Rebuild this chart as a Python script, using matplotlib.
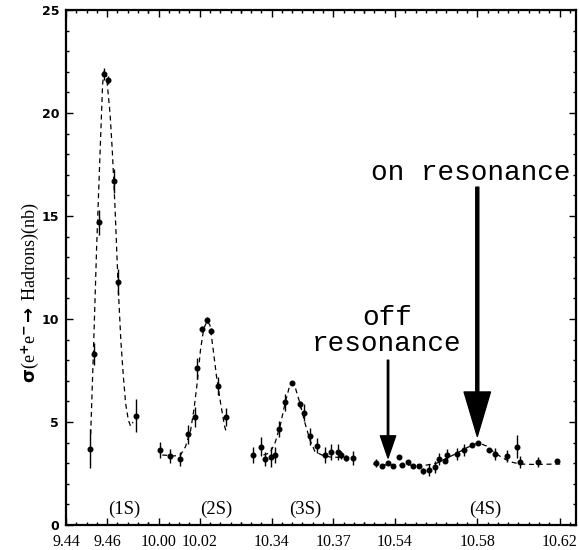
import numpy as np
import matplotlib
matplotlib.use("Agg")
import matplotlib.pyplot as plt

plt.rcParams["mathtext.fontset"] = "custom"
plt.rcParams["mathtext.rm"] = "Liberation Serif"
plt.rcParams["mathtext.it"] = "Liberation Serif:italic"
plt.rcParams["mathtext.bf"] = "DejaVu Sans:bold"

# Energy windows (GeV) shown side by side on a broken axis
seg_lo = [9.44, 9.995, 10.325, 10.525]
seg_hi = [9.48, 10.04, 10.385, 10.628]

major_ticks = [9.44, 9.46, 10.00, 10.02, 10.34, 10.37, 10.54, 10.58, 10.62]
major_labels = ["9.44", "9.46", "10.00", "10.02", "10.34", "10.37", "10.54", "10.58", "10.62"]

# Upsilon(1S) scan
e_1s = [9.4517, 9.4536, 9.4559, 9.4583, 9.4603, 9.4633, 9.4651, 9.4740]
s_1s = [3.7, 8.3, 14.7, 21.9, 21.6, 16.7, 11.8, 5.3]
d_1s = [0.95, 0.55, 0.6, 0.3, 0.2, 0.6, 0.65, 0.8]
fit_e_1s = [9.4520, 9.4533, 9.4549, 9.4565, 9.4578, 9.4586, 9.4598, 9.4614, 9.4625,
            9.4638, 9.4654, 9.4667, 9.4679, 9.4690, 9.4703, 9.4714, 9.4726]
fit_s_1s = [4.4, 8.3, 13.5, 17.9, 21.4, 22.1, 21.7, 20.0, 18.2,
            15.5, 11.5, 8.9, 7.2, 5.9, 5.1, 4.8, 5.0]

# Upsilon(2S) scan
e_2s = [10.0006, 10.0055, 10.0104, 10.0144, 10.0175, 10.0188, 10.0213, 10.0237,
        10.0256, 10.0288, 10.0327]
s_2s = [3.65, 3.35, 3.2, 4.4, 5.25, 7.6, 9.5, 9.95, 9.4, 6.75, 5.25]
d_2s = [0.4, 0.35, 0.35, 0.45, 0.5, 0.5, 0.15, 0.15, 0.15, 0.45, 0.45]
fit_e_2s = [10.0018, 10.0074, 10.0107, 10.0131, 10.0156, 10.0172, 10.0188, 10.0204,
            10.0220, 10.0237, 10.0250, 10.0266, 10.0282, 10.0302, 10.0321, 10.0331]
fit_s_2s = [3.4, 3.35, 3.4, 3.8, 4.6, 5.6, 6.9, 8.5, 9.55, 9.9, 9.7, 8.5, 7.2, 5.9, 4.8, 4.45]

# Upsilon(3S) scan
e_3s = [10.3311, 10.3350, 10.3366, 10.3399, 10.3415, 10.3436, 10.3464, 10.3498, 10.3540,
        10.3556, 10.3587, 10.3622, 10.3660, 10.3690, 10.3721, 10.3738, 10.3762, 10.3794]
s_3s = [3.4, 3.8, 3.2, 3.3, 3.4, 4.65, 5.95, 6.9, 5.85,
        5.45, 4.3, 3.85, 3.4, 3.55, 3.55, 3.4, 3.25, 3.25]
d_3s = [0.4, 0.45, 0.35, 0.5, 0.4, 0.4, 0.4, 0.1, 0.15,
        0.4, 0.4, 0.35, 0.4, 0.4, 0.4, 0.2, 0.15, 0.35]
fit_e_3s = [10.3360, 10.3392, 10.3417, 10.3441, 10.3465, 10.3486, 10.3498, 10.3514,
            10.3538, 10.3562, 10.3587, 10.3611, 10.3644, 10.3684, 10.3733, 10.3797]
fit_s_3s = [3.4, 3.5, 4.0, 4.8, 5.9, 6.7, 6.9, 6.7, 5.9, 4.95, 4.1, 3.56, 3.4, 3.3, 3.28, 3.24]

# Upsilon(4S) scan
e_4s = [10.5308, 10.5335, 10.5364, 10.5392, 10.5420, 10.5436, 10.5462, 10.5489, 10.5517,
        10.5538, 10.5565, 10.5595, 10.5615, 10.5643, 10.5654, 10.5700, 10.5736, 10.5773,
        10.5805, 10.5859, 10.5886, 10.5943, 10.5995, 10.6008, 10.6094, 10.6189]
s_4s = [3.0, 2.85, 3.0, 2.86, 3.28, 2.92, 3.07, 2.85, 2.88,
        2.62, 2.67, 2.83, 3.2, 3.12, 3.4, 3.45, 3.65, 3.9,
        3.97, 3.65, 3.45, 3.35, 3.8, 3.07, 3.05, 3.12]
d_4s = [0.2, 0.1, 0.1, 0.1, 0.1, 0.1, 0.1, 0.1, 0.1,
        0.15, 0.3, 0.3, 0.3, 0.1, 0.3, 0.3, 0.3, 0.1,
        0.1, 0.1, 0.3, 0.3, 0.55, 0.3, 0.25, 0.1]
fit_e_4s = [10.5294, 10.5360, 10.5424, 10.5489, 10.5554, 10.5603, 10.5651, 10.5700, 10.5749,
            10.5789, 10.5813, 10.5846, 10.5878, 10.5919, 10.5959, 10.6008, 10.6073, 10.6203]
fit_s_4s = [2.96, 2.91, 2.91, 2.91, 2.91, 3.0, 3.24, 3.48, 3.75,
            3.93, 3.96, 3.83, 3.56, 3.28, 3.07, 2.96, 2.94, 2.96]

state_names = ["(1S)", "(2S)", "(3S)", "(4S)"]
state_label_e = [9.4682, 10.0282, 10.3562, 10.5838]

# Piecewise-linear broken axis: gaps between windows are squeezed out
knots_e, knots_c = [], []
c = 0.0
for lo, hi in zip(seg_lo, seg_hi):
    knots_e += [lo, hi]
    knots_c += [c, c + (hi - lo)]
    c += (hi - lo) + 1e-7
knots_e = np.array(knots_e)
knots_c = np.array(knots_c)


def fwd(x):
    return np.interp(np.asarray(x, dtype=float), knots_e, knots_c)


def inv(x):
    return np.interp(np.asarray(x, dtype=float), knots_c, knots_e)


fig = plt.figure(figsize=(5.79, 5.50), dpi=100)
ax = fig.add_axes([66 / 579, 25 / 550, 510 / 579, 515 / 550])
ax.set_xscale("function", functions=(fwd, inv))
ax.set_xlim(seg_lo[0], seg_hi[-1])
ax.set_ylim(0, 25)

series = [(e_1s, s_1s, d_1s, fit_e_1s, fit_s_1s),
          (e_2s, s_2s, d_2s, fit_e_2s, fit_s_2s),
          (e_3s, s_3s, d_3s, fit_e_3s, fit_s_3s),
          (e_4s, s_4s, d_4s, fit_e_4s, fit_s_4s)]
for e, s, d, fe, fs in series:
    ax.plot(fe, fs, color="black", lw=0.9, dashes=(4, 3), zorder=2)
    ax.errorbar(e, s, yerr=d, fmt="o", color="black", ms=3.3, elinewidth=1.0,
                capsize=0, zorder=3)

for name, xe in zip(state_names, state_label_e):
    ax.text(xe, 0.75, name, ha="center", va="center", fontsize=13.5,
            family="Liberation Serif")

# Ticks
minor = []
for lo, hi in zip(seg_lo, seg_hi):
    for t in np.arange(lo, hi + 1e-9, 0.005):
        t = round(t, 3)
        if all(abs(t - m) > 1e-6 for m in major_ticks):
            minor.append(t)
ax.set_xticks(major_ticks)
ax.set_xticklabels(major_labels, family="Liberation Serif", fontsize=11.5)
ax.set_xticks(minor, minor=True)
ax.set_yticks([0, 5, 10, 15, 20, 25])
ax.set_yticklabels(["0", "5", "10", "15", "20", "25"], fontweight="bold", fontsize=9,
                   family="DejaVu Sans")
ax.set_yticks(np.arange(0, 26, 1), minor=True)
ax.tick_params(which="both", direction="in", top=True, right=True, width=1.0)
ax.tick_params(which="major", length=5)
ax.tick_params(which="minor", length=2.5)
ax.tick_params(axis="x", pad=6.5)
ax.tick_params(axis="y", pad=5)
for sp in ax.spines.values():
    sp.set_linewidth(1.6)

# Annotations
ax.annotate("", xy=(10.58, 4.3), xytext=(10.58, 16.4),
            arrowprops=dict(facecolor="black", edgecolor="black", width=2.2,
                            headwidth=19, headlength=32, shrink=0))
ax.text(10.5767, 17.1, "on resonance", ha="center", va="center", fontsize=20,
        family="Liberation Mono")
ax.annotate("", xy=(10.5366, 3.25), xytext=(10.5366, 8.0),
            arrowprops=dict(facecolor="black", edgecolor="black", width=1.0,
                            headwidth=11, headlength=16, shrink=0))
ax.text(10.5361, 9.42, "off\nresonance", ha="center", va="center", fontsize=20,
        family="Liberation Mono", linespacing=1.0)

fig.text(30 / 579, 1 - 292 / 550,
         r"$\mathbf{\sigma}\mathrm{(e}^{\mathbf{+}}\mathrm{e}^{\mathbf{-}}\mathbf{\rightarrow}\mathrm{\ Hadrons)(nb)}$",
         rotation=90, ha="center", va="center", fontsize=13)

fig.savefig("out.png", dpi=100)
